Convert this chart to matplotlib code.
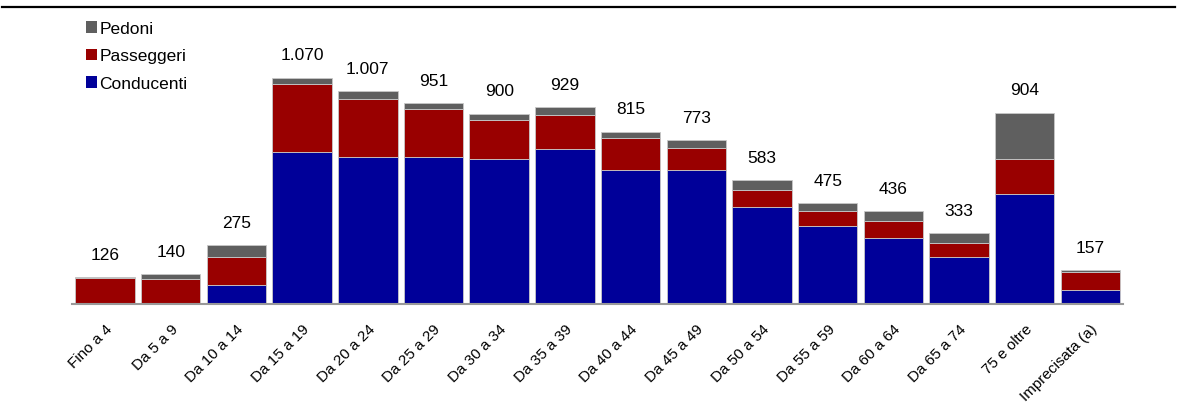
import matplotlib.pyplot as plt
from matplotlib.lines import Line2D
import numpy as np

plt.rcParams["font.family"] = ["Liberation Sans", "DejaVu Sans"]

# -------------------------------
# DATA
# -------------------------------
classi = [
    "Fino a 4", "Da 5 a 9", "Da 10 a 14", "Da 15 a 19", "Da 20 a 24",
    "Da 25 a 29", "Da 30 a 34", "Da 35 a 39", "Da 40 a 44", "Da 45 a 49",
    "Da 50 a 54", "Da 55 a 59", "Da 60 a 64", "Da 65 a 74", "75 e oltre",
    "Imprecisata (a)",
]
conducenti = [2, 3, 89, 720, 692, 692, 686, 731, 632, 631, 459, 365, 308, 219, 517, 66]
passeggeri = [118, 115, 133, 319, 279, 228, 182, 161, 151, 107, 78, 72, 83, 69, 167, 83]
pedoni = [6, 22, 53, 31, 36, 31, 32, 37, 32, 35, 46, 38, 45, 45, 220, 8]
totali = [126, 140, 275, 1070, 1007, 951, 900, 929, 815, 773, 583, 475, 436, 333, 904, 157]

COL_COND = "#000099"
COL_PASS = "#990000"
COL_PED = "#5f5f5f"

# -------------------------------
# DRAW
# -------------------------------
fig = plt.figure(figsize=(11.81, 4.06), dpi=100)
ax = fig.add_axes([0.0611, 0.2500, 0.890, 0.7007])

x = np.arange(len(classi))
cond = np.array(conducenti)
pas = np.array(passeggeri)
ped = np.array(pedoni)

w = 0.905
kw = dict(width=w, edgecolor="#c8c8c8", linewidth=0.6)
b1 = ax.bar(x, cond, color=COL_COND, label="Conducenti", **kw)
b2 = ax.bar(x, pas, bottom=cond, color=COL_PASS, label="Passeggeri", **kw)
b3 = ax.bar(x, ped, bottom=cond + pas, color=COL_PED, label="Pedoni", **kw)

# totals above bars (Italian thousands separator)
for xi, top, tot in zip(x, cond + pas + ped, totali):
    txt = f"{tot:,}".replace(",", ".")
    ax.annotate(txt, (xi, top), xytext=(0, 11), textcoords="offset points",
                ha="center", va="bottom", fontsize=12.5)

ax.set_xlim(-0.5, len(classi) - 0.5)
ax.set_ylim(0, 1348)
ax.set_yticks([])
ax.set_xticks(x)
ax.set_xticklabels(classi, rotation=45, ha="right", rotation_mode="anchor",
                   fontsize=11)
ax.tick_params(axis="x", length=0, pad=13)
for s in ["top", "right", "left"]:
    ax.spines[s].set_visible(False)
ax.spines["bottom"].set_color("#999999")
ax.spines["bottom"].set_linewidth(1.5)

leg = ax.legend(handles=[b3, b2, b1], loc="upper left",
                bbox_to_anchor=(86 / 1181, 1 - 22 / 406),
                bbox_transform=fig.transFigure, frameon=False, fontsize=12.5,
                handlelength=0.65, handleheight=0.65, handletextpad=0.12,
                labelspacing=0.72, borderaxespad=0, borderpad=0)
for h in leg.legend_handles:
    h.set_edgecolor("none")

# rule across the top of the figure
fig.add_artist(Line2D([2 / 1181, 1175 / 1181], [1 - 7.5 / 406] * 2,
                      transform=fig.transFigure, color="black", linewidth=1.6))

fig.savefig("out.png", dpi=100)
